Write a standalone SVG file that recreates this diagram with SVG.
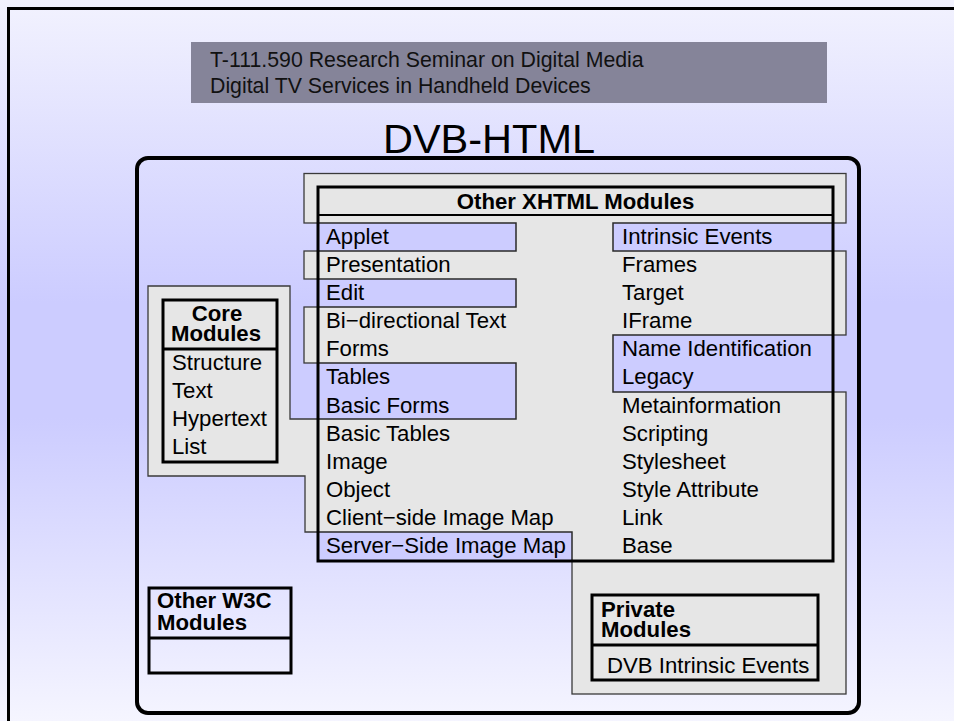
<svg xmlns="http://www.w3.org/2000/svg" width="954" height="721" viewBox="0 0 954 721">
  <defs>
    <linearGradient id="bg" x1="0" y1="0" x2="0" y2="1">
      <stop offset="0" stop-color="#f2f2fe"/>
      <stop offset="0.42" stop-color="#ccccff"/>
      <stop offset="0.58" stop-color="#ccccff"/>
      <stop offset="1" stop-color="#f5f5ff"/>
    </linearGradient>
    <style>
      .txt { font-family: "Liberation Sans", Arial, sans-serif; font-size: 22.2px; fill: #000; }
      .bold { font-weight: bold; }
      .banner-txt { font-size: 21.3px; fill: #111; }
      .title { font-size: 41.5px; }
      .panel { fill: #e6e6e6; stroke: #3a3a3a; stroke-width: 1.3; }
      .hl { fill: #ccccff; stroke: #2a2a2a; stroke-width: 1.5; }
      .box { fill: #e6e6e6; stroke: #000; stroke-width: 3; }
      .frame { fill: none; stroke: #000; stroke-width: 3; }
      .sep { stroke: #000; stroke-width: 3; }
    </style>
  </defs>

  <!-- slide background and border -->
  <rect x="0" y="0" width="954" height="721" fill="url(#bg)"/>
  <path d="M8.5,721 V8.5 H954" fill="none" stroke="#000" stroke-width="3"/>

  <!-- heading banner -->
  <g id="banner">
    <rect x="191" y="42" width="636" height="61" fill="#858499"/>
    <text class="txt banner-txt" x="210" y="67">T-111.590 Research Seminar on Digital Media</text>
    <text class="txt banner-txt" x="210" y="93">Digital TV Services in Handheld Devices</text>
  </g>

  <text class="txt title" x="489" y="153" text-anchor="middle">DVB-HTML</text>

  <!-- DVB-HTML profile boundary -->
  <g id="dvb-html">
    <rect x="137" y="158" width="722" height="555" rx="11" ry="11" fill="none" stroke="#000" stroke-width="4"/>
  </g>

  <!-- grey grouping panels -->
  <g id="panels">
    <rect class="panel" x="304" y="173.5" width="542" height="49.5"/>
    <rect class="panel" x="304" y="251" width="30" height="28"/>
    <rect class="panel" x="304" y="307" width="30" height="56"/>
    <rect class="panel" x="800" y="251" width="46" height="84"/>
    <polygon class="panel" points="148,286 290,286 290,419 330,419 330,532 305,532 305,476 148,476"/>
    <rect class="panel" x="572" y="392" width="274" height="302"/>
  </g>

  <!-- Core modules -->
  <g id="core-modules">
    <rect class="box" x="163" y="300" width="114" height="162"/>
    <line class="sep" x1="163" y1="349" x2="277" y2="349"/>
    <text class="txt bold" x="217" y="321" text-anchor="middle">Core</text>
    <text class="txt bold" x="216" y="341" text-anchor="middle">Modules</text>
    <text class="txt" x="172" y="370">Structure</text>
    <text class="txt" x="172" y="398">Text</text>
    <text class="txt" x="172" y="426">Hypertext</text>
    <text class="txt" x="172" y="454">List</text>
  </g>

  <!-- Other XHTML modules -->
  <g id="xhtml-modules">
    <rect x="318" y="187" width="515" height="374" fill="#e6e6e6"/>
    <rect class="hl" x="318" y="223" width="198" height="28"/>
    <rect class="hl" x="318" y="279" width="198" height="28"/>
    <rect class="hl" x="318" y="363" width="198" height="56"/>
    <rect class="hl" x="318" y="532" width="254" height="29"/>
    <rect class="hl" x="613" y="223" width="220" height="28"/>
    <rect class="hl" x="613" y="335" width="220" height="57"/>
    <rect class="frame" x="318" y="187" width="515" height="374"/>
    <line x1="318" y1="215" x2="833" y2="215" stroke="#000" stroke-width="2.2"/>
    <text class="txt bold" x="575.5" y="209" text-anchor="middle">Other XHTML Modules</text>

    <text class="txt" x="326" y="244">Applet</text>
    <text class="txt" x="326" y="272">Presentation</text>
    <text class="txt" x="326" y="300">Edit</text>
    <text class="txt" x="326" y="328">Bi−directional Text</text>
    <text class="txt" x="326" y="355.5">Forms</text>
    <text class="txt" x="326" y="384">Tables</text>
    <text class="txt" x="326" y="412.5">Basic Forms</text>
    <text class="txt" x="326" y="441">Basic Tables</text>
    <text class="txt" x="326" y="469">Image</text>
    <text class="txt" x="326" y="497">Object</text>
    <text class="txt" x="326" y="525">Client−side Image Map</text>
    <text class="txt" x="326" y="553">Server−Side Image Map</text>

    <text class="txt" x="622" y="244">Intrinsic Events</text>
    <text class="txt" x="622" y="272">Frames</text>
    <text class="txt" x="622" y="300">Target</text>
    <text class="txt" x="622" y="328">IFrame</text>
    <text class="txt" x="622" y="355.5">Name Identification</text>
    <text class="txt" x="622" y="384">Legacy</text>
    <text class="txt" x="622" y="412.5">Metainformation</text>
    <text class="txt" x="622" y="441">Scripting</text>
    <text class="txt" x="622" y="469">Stylesheet</text>
    <text class="txt" x="622" y="497">Style Attribute</text>
    <text class="txt" x="622" y="525">Link</text>
    <text class="txt" x="622" y="553">Base</text>
  </g>

  <!-- Other W3C modules -->
  <g id="w3c-modules">
    <rect class="frame" x="149" y="588" width="142" height="85"/>
    <line class="sep" x1="149" y1="638" x2="291" y2="638"/>
    <text class="txt bold" x="157" y="608">Other W3C</text>
    <text class="txt bold" x="157" y="630">Modules</text>
  </g>

  <!-- Private modules -->
  <g id="private-modules">
    <rect class="box" x="592" y="595" width="226" height="85"/>
    <line class="sep" x1="592" y1="645" x2="818" y2="645"/>
    <text class="txt bold" x="601" y="617">Private</text>
    <text class="txt bold" x="601" y="637">Modules</text>
    <text class="txt" x="607" y="673">DVB Intrinsic Events</text>
  </g>
</svg>
